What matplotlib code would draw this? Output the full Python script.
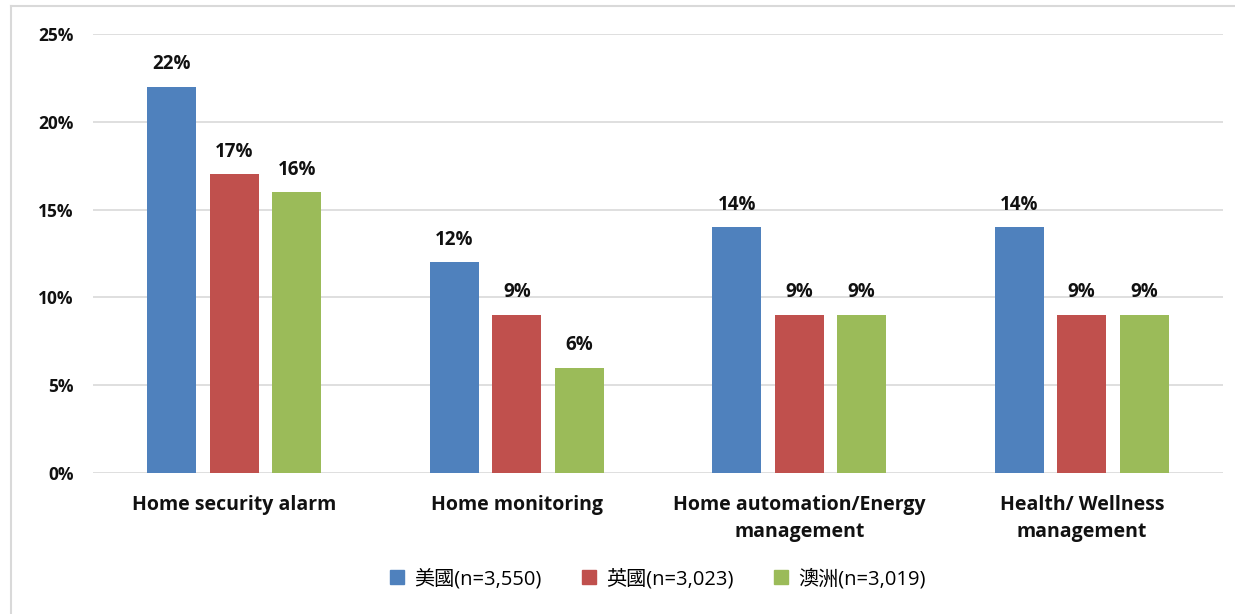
import matplotlib
matplotlib.use('Agg')
from matplotlib import pyplot as plt
from matplotlib.lines import Line2D
import numpy as np

# categories, series and values
categories = ['Home security alarm', 'Home monitoring',
              'Home automation/Energy\nmanagement', 'Health/ Wellness\nmanagement']
series_names = ['美國(n=3,550)', '英國(n=3,023)', '澳洲(n=3,019)']
usa = [22, 12, 14, 14]
uk = [17, 9, 9, 9]
aus = [16, 6, 9, 9]
yticks = [0, 5, 10, 15, 20, 25]

colors = ['#4F81BD', '#C0504D', '#9BBB59']
series = [usa, uk, aus]

plt.rcParams['font.family'] = ['Open Sans', 'Noto Sans CJK TC', 'DejaVu Sans']

fig = plt.figure(figsize=(12.35, 6.14), dpi=100)
ax = fig.add_axes([93 / 1235, 1 - 473 / 614, 1130 / 1235, 439 / 614])

x = np.arange(len(categories))
width = 0.173
step = 0.221

for i, (vals, name, col) in enumerate(zip(series, series_names, colors)):
    pos = x + (i - 1) * step
    bars = ax.bar(pos, vals, width, color=col, label=name, zorder=3)
    for b, v in zip(bars, vals):
        ax.annotate(f'{v}%', (b.get_x() + b.get_width() / 2, v),
                    xytext=(0, 9), textcoords='offset points',
                    ha='center', va='bottom', fontsize=13.5, fontweight='bold',
                    color='#111111')

ax.set_xlim(-0.5, len(categories) - 0.5)
ax.set_ylim(0, 25)
ax.set_yticks(yticks)
ax.set_yticklabels([f'{t}%' for t in yticks], fontsize=12.5, fontweight='bold', color='#111111')
ax.set_xticks(x)
ax.set_xticklabels(categories, fontsize=14, fontweight='bold', color='#111111',
                   linespacing=1.45, va='top')
ax.tick_params(axis='both', length=0)
ax.tick_params(axis='y', pad=14)
ax.tick_params(axis='x', pad=16)
ax.yaxis.grid(True, color='#D9D9D9', linewidth=1.2, zorder=0)
for s in ax.spines.values():
    s.set_visible(False)

handles = [plt.Rectangle((0, 0), 1, 1, color=c) for c in colors]
fig.legend(handles, series_names, loc='center', bbox_to_anchor=(658 / 1235, 1 - 579 / 614),
           ncol=3, frameon=False, fontsize=14.5, handlelength=0.7, handleheight=0.7,
           handletextpad=0.5, columnspacing=2.0)

# light frame around the chart area
fig.add_artist(Line2D([11 / 1235, 11 / 1235], [0, 1 - 6 / 614], color='#D9D9D9', linewidth=1.5))
fig.add_artist(Line2D([11 / 1235, 1], [1 - 6 / 614, 1 - 6 / 614], color='#D9D9D9', linewidth=1.5))

fig.savefig('out.png', dpi=100)
